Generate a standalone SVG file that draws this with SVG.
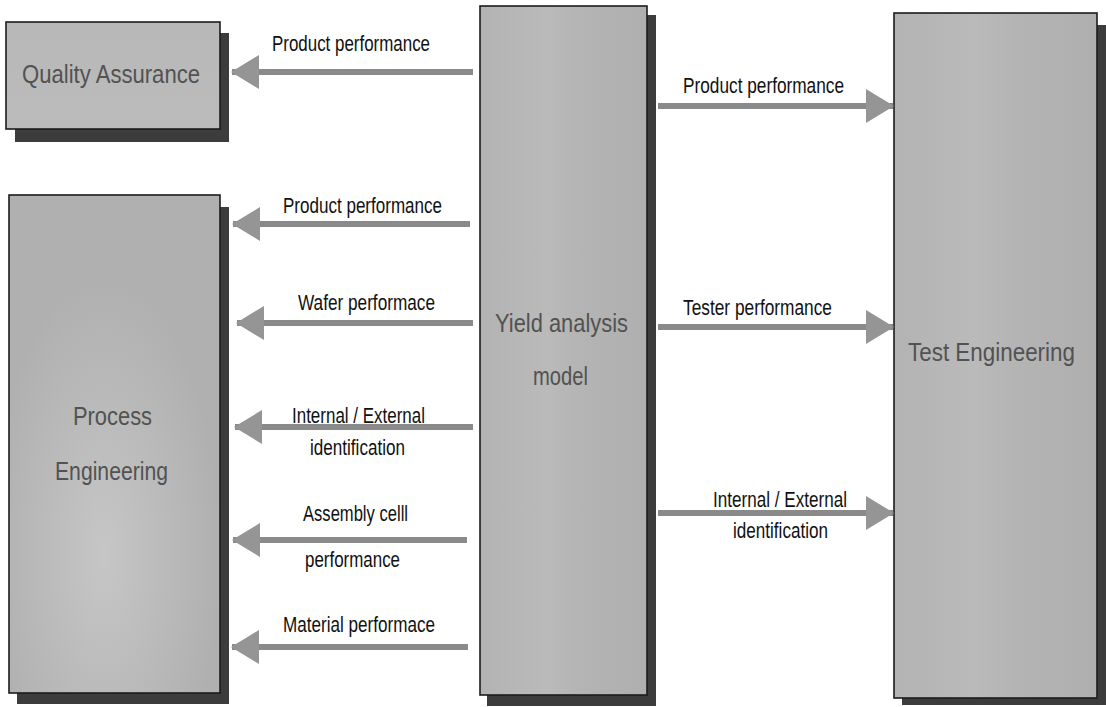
<svg xmlns="http://www.w3.org/2000/svg" width="1106" height="707" viewBox="0 0 1106 707">
  <defs>
    <style>
      .shadow { fill: #3c3c3c; }
      .box { stroke: #1c1c1c; stroke-width: 1.6; }
      .boxlabel { font-family: "Liberation Sans", Arial, sans-serif; font-size: 25px; fill: #525252; text-anchor: middle; }
      .lbl { font-family: "Liberation Sans", Arial, sans-serif; font-size: 22.5px; fill: #111111; text-anchor: middle; }
      .conn { stroke: #8a8a8a; stroke-width: 6; fill: none; }
    </style>
    <linearGradient id="gV" x1="0" y1="0" x2="1" y2="0">
      <stop offset="0" stop-color="#b3b3b3"/>
      <stop offset="0.4" stop-color="#bababa"/>
      <stop offset="0.6" stop-color="#b4b4b4"/>
      <stop offset="1" stop-color="#afafaf"/>
    </linearGradient>
    <radialGradient id="gP" cx="0.45" cy="0.72" r="0.55">
      <stop offset="0" stop-color="#c6c6c6"/>
      <stop offset="1" stop-color="#b0b0b0"/>
    </radialGradient>
    <linearGradient id="gQ" x1="0" y1="0" x2="0" y2="1">
      <stop offset="0" stop-color="#b8b8b8"/>
      <stop offset="1" stop-color="#bbbbbb"/>
    </linearGradient>
    <marker id="ah" viewBox="0 0 28 34" refX="27" refY="17" markerWidth="28" markerHeight="34" markerUnits="userSpaceOnUse" orient="auto">
      <path d="M0,0 L28,17 L0,34 Z" fill="#959595"/>
    </marker>
  </defs>
  <rect x="0" y="0" width="1106" height="707" fill="#ffffff"/>

  <g id="quality-assurance">
    <rect class="shadow" x="15" y="33" width="214" height="109"/>
    <rect class="box" x="6" y="22" width="214" height="107" fill="url(#gQ)"/>
    <text class="boxlabel" x="111" y="83" textLength="178" lengthAdjust="spacingAndGlyphs">Quality Assurance</text>
  </g>

  <g id="process-engineering">
    <rect class="shadow" x="17" y="207" width="212" height="497"/>
    <rect class="box" x="9" y="195" width="211" height="498" fill="url(#gP)"/>
    <text class="boxlabel" x="112.5" y="425" textLength="79" lengthAdjust="spacingAndGlyphs">Process</text>
    <text class="boxlabel" x="111.5" y="480" textLength="113" lengthAdjust="spacingAndGlyphs">Engineering</text>
  </g>

  <g id="yield-analysis-model">
    <rect class="shadow" x="487" y="15" width="169" height="691"/>
    <rect class="box" x="480" y="6" width="167" height="689" fill="url(#gV)"/>
    <text class="boxlabel" x="561.5" y="332" textLength="133" lengthAdjust="spacingAndGlyphs">Yield analysis</text>
    <text class="boxlabel" x="560.5" y="385" textLength="55" lengthAdjust="spacingAndGlyphs">model</text>
  </g>

  <g id="test-engineering">
    <rect class="shadow" x="902" y="25" width="204" height="680"/>
    <rect class="box" x="894" y="13" width="203" height="685" fill="url(#gV)"/>
    <text class="boxlabel" x="991.5" y="361" textLength="167" lengthAdjust="spacingAndGlyphs">Test Engineering</text>
  </g>

  <g id="connectors">
    <line class="conn" x1="473" y1="72" x2="232" y2="72" marker-end="url(#ah)"/>
    <line class="conn" x1="470" y1="224" x2="233" y2="224" marker-end="url(#ah)"/>
    <line class="conn" x1="473" y1="323" x2="237" y2="323" marker-end="url(#ah)"/>
    <line class="conn" x1="473" y1="427" x2="235" y2="427" marker-end="url(#ah)"/>
    <line class="conn" x1="467" y1="540" x2="233" y2="540" marker-end="url(#ah)"/>
    <line class="conn" x1="468" y1="647" x2="232" y2="647" marker-end="url(#ah)"/>
    <line class="conn" x1="658" y1="106" x2="893" y2="106" marker-end="url(#ah)"/>
    <line class="conn" x1="658" y1="327" x2="893" y2="327" marker-end="url(#ah)"/>
    <line class="conn" x1="658" y1="513" x2="893" y2="513" marker-end="url(#ah)"/>
  </g>

  <g id="connector-labels">
    <text class="lbl" x="351" y="51" textLength="158" lengthAdjust="spacingAndGlyphs">Product performance</text>
    <text class="lbl" x="362.5" y="213" textLength="159" lengthAdjust="spacingAndGlyphs">Product performance</text>
    <text class="lbl" x="366.5" y="310" textLength="137" lengthAdjust="spacingAndGlyphs">Wafer performace</text>
    <text class="lbl" x="358.5" y="423" textLength="133" lengthAdjust="spacingAndGlyphs">Internal / External</text>
    <text class="lbl" x="357.5" y="455" textLength="95" lengthAdjust="spacingAndGlyphs">identification</text>
    <text class="lbl" x="355.5" y="521" textLength="105" lengthAdjust="spacingAndGlyphs">Assembly celll</text>
    <text class="lbl" x="352.5" y="567" textLength="95" lengthAdjust="spacingAndGlyphs">performance</text>
    <text class="lbl" x="359" y="632" textLength="152" lengthAdjust="spacingAndGlyphs">Material performace</text>
    <text class="lbl" x="763.5" y="93" textLength="161" lengthAdjust="spacingAndGlyphs">Product performance</text>
    <text class="lbl" x="757.5" y="315" textLength="149" lengthAdjust="spacingAndGlyphs">Tester performance</text>
    <text class="lbl" x="780" y="507" textLength="134" lengthAdjust="spacingAndGlyphs">Internal / External</text>
    <text class="lbl" x="780.5" y="538" textLength="95" lengthAdjust="spacingAndGlyphs">identification</text>
  </g>
</svg>
